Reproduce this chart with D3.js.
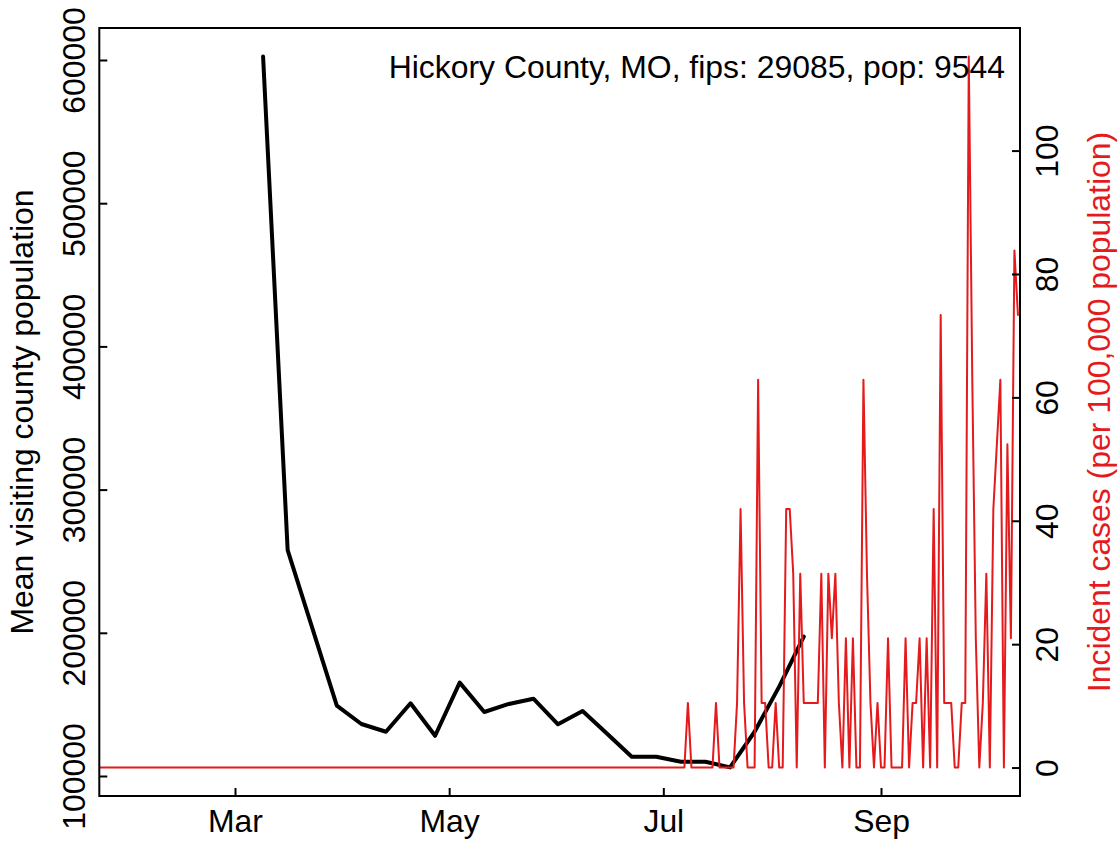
<!DOCTYPE html>
<html>
<head>
<meta charset="utf-8">
<script src="https://cdn.jsdelivr.net/npm/d3@7"></script>
<style>
  html, body { margin: 0; padding: 0; background: #fff; }
  svg { display: block; }
  text { font-family: "Liberation Sans", Arial, Helvetica, sans-serif; }
</style>
</head>
<body>
<svg id="chart" width="1119" height="841"></svg>
<script>
// ---------------- data ----------------
const titleText = "Hickory County, MO, fips: 29085, pop: 9544";
const leftTitle = "Mean visiting county population";
const rightTitle = "Incident cases (per 100,000 population)";

// weekly mean visiting county population (black line)
const visitDates = ["2020-03-09","2020-03-16","2020-03-23","2020-03-30","2020-04-06","2020-04-13",
  "2020-04-20","2020-04-27","2020-05-04","2020-05-11","2020-05-18","2020-05-25","2020-06-01",
  "2020-06-08","2020-06-15","2020-06-22","2020-06-29","2020-07-06","2020-07-13","2020-07-20",
  "2020-07-27","2020-08-03","2020-08-10"];
const visitValues = [602400,257800,203400,149100,136300,130900,
  150800,128100,165200,144700,150300,154000,136100,
  145400,129500,113500,113500,110000,110000,106000,
  130900,162400,197300];

// daily incident cases per 100,000 (red line), starting 2020-01-22
const caseStart = "2020-01-22";
const caseValues = [
  // Jan 22-31
  0,0,0,0,0,0,0,0,0,0,
  // Feb
  0,0,0,0,0,0,0,0,0,0, 0,0,0,0,0,0,0,0,0,0, 0,0,0,0,0,0,0,0,0,
  // Mar
  0,0,0,0,0,0,0,0,0,0, 0,0,0,0,0,0,0,0,0,0, 0,0,0,0,0,0,0,0,0,0, 0,
  // Apr
  0,0,0,0,0,0,0,0,0,0, 0,0,0,0,0,0,0,0,0,0, 0,0,0,0,0,0,0,0,0,0,
  // May
  0,0,0,0,0,0,0,0,0,0, 0,0,0,0,0,0,0,0,0,0, 0,0,0,0,0,0,0,0,0,0, 0,
  // Jun
  0,0,0,0,0,0,0,0,0,0, 0,0,0,0,0,0,0,0,0,0, 0,0,0,0,0,0,0,0,0,0,
  // Jul
  0,0,0,0,0,0,0,10.48,0,0, 0,0,0,0,0,10.48,0,0,0,0, 0,10.48,41.91,10.48,0,0,0,62.87,10.48,10.48, 0,
  // Aug
  0,10.48,0,0,41.91,41.91,31.43,0,31.43,10.48, 10.48,10.48,10.48,10.48,31.43,0,31.43,20.96,31.43,10.48,
  0,20.96,0,20.96,0,0,62.87,31.43,10.48,0, 10.48,
  // Sep
  0,0,20.96,0,0,0,0,20.96,0,10.48, 10.48,20.96,0,20.96,0,41.91,0,73.35,10.48,10.48,
  10.48,0,0,10.48,10.48,115.26,62.87,20.96,0,10.48,
  // Oct 1-10
  31.43,0,41.91,52.39,62.87,0,52.39,20.96,83.82,73.35
];

const xTickDates = ["2020-03-01","2020-05-01","2020-07-01","2020-09-01"];
const xTickLabels = ["Mar","May","Jul","Sep"];
const leftTicks = [100000,200000,300000,400000,500000,600000];
const rightTicks = [0,20,40,60,80,100];

// ---------------- layout ----------------
const plotL = 99.3, plotR = 1020, plotT = 28, plotB = 796;
const fontSize = 31.9;
const red = "#e41a1c";

const svg = d3.select("#chart");

const x = d3.scaleUtc()
  .domain([new Date(Date.UTC(2020,0,22,8,24)), new Date(Date.UTC(2020,9,10,14,10))])
  .range([plotL, plotR]);
const yL = d3.scaleLinear().domain([86034, 622346]).range([plotB, plotT]);
const yR = d3.scaleLinear().domain([-4.61, 119.87]).range([plotB, plotT]);

const parse = d3.utcParse("%Y-%m-%d");
const visitData = visitDates.map((d,i) => ({date: parse(d), v: visitValues[i]}));
const start = parse(caseStart);
const caseData = caseValues.map((v,i) => ({date: d3.utcDay.offset(start, i), v}));

svg.append("defs").append("clipPath").attr("id","plotclip")
  .append("rect").attr("x", plotL).attr("y", plotT)
  .attr("width", plotR - plotL).attr("height", plotB - plotT);

const plotG = svg.append("g").attr("clip-path","url(#plotclip)");

// black line
plotG.append("path")
  .datum(visitData)
  .attr("fill","none").attr("stroke","#000").attr("stroke-width",4)
  .attr("stroke-linejoin","round").attr("stroke-linecap","round")
  .attr("d", d3.line().x(d => x(d.date)).y(d => yL(d.v)));

// red line
plotG.append("path")
  .datum(caseData)
  .attr("fill","none").attr("stroke",red).attr("stroke-width",2)
  .attr("stroke-linejoin","round").attr("stroke-linecap","round")
  .attr("d", d3.line().x(d => x(d.date)).y(d => yR(d.v)));

// box
svg.append("rect").attr("x", plotL).attr("y", plotT)
  .attr("width", plotR - plotL).attr("height", plotB - plotT)
  .attr("fill","none").attr("stroke","#000").attr("stroke-width",2);

// axes
const styleAxis = g => {
  g.select(".domain").remove();
  g.selectAll(".tick line").attr("stroke","#000").attr("stroke-width",2);
  g.selectAll(".tick text").attr("fill","#000").style("font-size", fontSize + "px")
    .style("font-family", '"Liberation Sans", Arial, Helvetica, sans-serif');
};

const gx = svg.append("g").attr("transform", `translate(0,${plotB})`)
  .call(d3.axisBottom(x).tickValues(xTickDates.map(parse)).tickSize(-8)
    .tickFormat((d,i) => xTickLabels[i]));
styleAxis(gx);
gx.selectAll(".tick text").attr("y", 35.7).attr("dy", 0);

const gl = svg.append("g").attr("transform", `translate(${plotL},0)`)
  .call(d3.axisLeft(yL).tickValues(leftTicks).tickSize(-8).tickFormat(d3.format("d")));
styleAxis(gl);
gl.selectAll(".tick text").attr("x", null).attr("dy", 0)
  .attr("text-anchor","middle")
  .attr("transform", `translate(${85 - plotL},0) rotate(-90)`);

const gr = svg.append("g").attr("transform", `translate(${plotR},0)`)
  .call(d3.axisRight(yR).tickValues(rightTicks).tickSize(-8).tickFormat(d3.format("d")));
styleAxis(gr);
gr.selectAll(".tick text").attr("x", null).attr("dy", 0)
  .attr("text-anchor","middle")
  .attr("transform", `translate(${1058 - plotR},0) rotate(-90)`);

// axis titles
const midY = (plotT + plotB) / 2;
svg.append("text")
  .attr("transform", `translate(33,${midY}) rotate(-90)`)
  .attr("text-anchor","middle").style("font-size", fontSize + "px").attr("fill","#000")
  .text(leftTitle);
svg.append("text")
  .attr("transform", `translate(1110,${midY}) rotate(-90)`)
  .attr("text-anchor","middle").style("font-size", fontSize + "px").attr("fill", red)
  .text(rightTitle);

// title in plot
svg.append("text")
  .attr("x", 1005).attr("y", 78)
  .attr("text-anchor","end").style("font-size", fontSize + "px").attr("fill","#000")
  .text(titleText);

if (caseValues.length !== 263) throw new Error("caseValues length " + caseValues.length);
</script>
</body>
</html>
